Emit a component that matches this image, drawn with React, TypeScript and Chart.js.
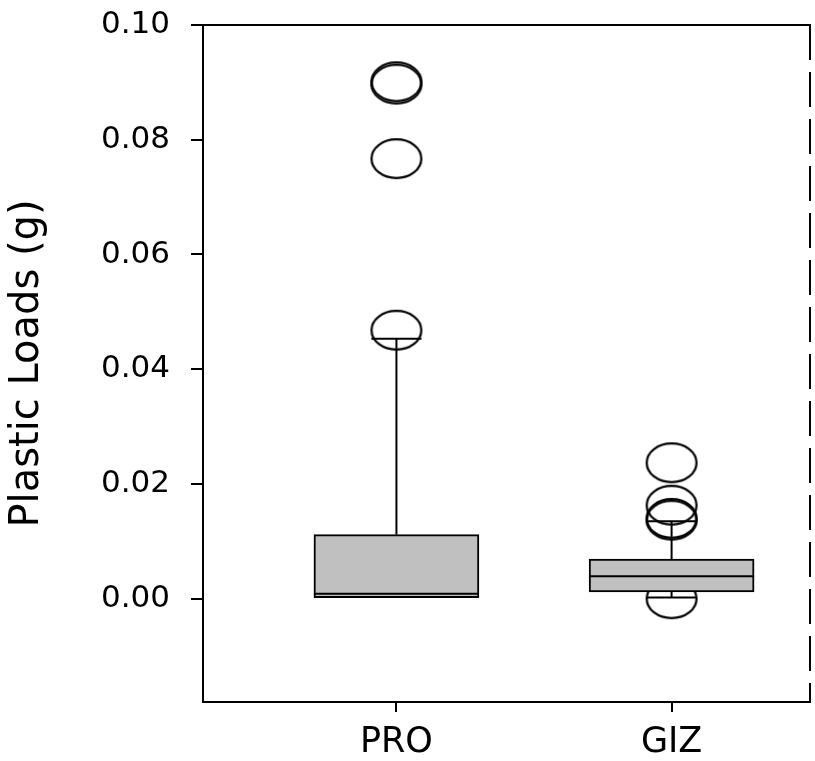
import React, { useEffect, useRef } from 'react';
import { Chart, registerables } from 'chart.js';

Chart.register(...registerables);

// ---- data ----
const categories = ['PRO', 'GIZ'];
const categoryPositions = [1, 2];
const q1Values = [0.0, 0.0012];
const medianValues = [0.00085, 0.0039];
const q3Values = [0.01117, 0.0069];
const whiskerLowValues = [0.0, 0.0002];
const whiskerHighValues = [0.0453, 0.0135];
const outliersPRO = [0.0901, 0.0897, 0.0767, 0.0468];
const outliersGIZ = [0.0237, 0.0163, 0.014, 0.0137, 0.0];
const yTickValues = [0, 0.02, 0.04, 0.06, 0.08, 0.1];
const yMin = -0.018;
const yMax = 0.1;
const xMin = 0.297;
const xMax = 2.503;

// ---- style constants ----
const BOX_HALF = 0.3;
const CAP_HALF = 0.091;
const FONT = 'DejaVu Sans';

function makeEllipse(w: number, h: number, lw: number): HTMLCanvasElement {
  const c = document.createElement('canvas');
  c.width = w + 4;
  c.height = h + 4;
  const ctx = c.getContext('2d')!;
  ctx.lineWidth = lw;
  ctx.strokeStyle = '#000';
  ctx.beginPath();
  ctx.ellipse(c.width / 2, c.height / 2, w / 2 - lw / 2, h / 2 - lw / 2, 0, 0, Math.PI * 2);
  ctx.stroke();
  return c;
}

function seg(points: { x: number; y: number }[]) {
  return {
    type: 'scatter' as const,
    data: points,
    showLine: true,
    borderColor: '#000',
    borderWidth: 2,
    pointRadius: 0,
    pointHoverRadius: 0,
    fill: false,
    order: 1,
  };
}

const dashedRightFrame = {
  id: 'dashedRightFrame',
  afterDraw(chart: any) {
    const { ctx, chartArea } = chart;
    ctx.save();
    ctx.strokeStyle = '#000';
    ctx.lineWidth = 2;
    ctx.setLineDash([35, 12]);
    ctx.beginPath();
    ctx.moveTo(Math.round(chartArea.right), chartArea.top);
    ctx.lineTo(Math.round(chartArea.right), chartArea.bottom + 1);
    ctx.stroke();
    ctx.restore();
  },
};

export default function App() {
  const ref = useRef<HTMLCanvasElement | null>(null);

  useEffect(() => {
    if (!ref.current) return;
    const ellipse = makeEllipse(52, 41, 2.2);

    const lineSets: any[] = [];
    categoryPositions.forEach((p, i) => {
      lineSets.push(seg([{ x: p - BOX_HALF, y: medianValues[i] }, { x: p + BOX_HALF, y: medianValues[i] }]));
      lineSets.push(seg([{ x: p, y: q3Values[i] }, { x: p, y: whiskerHighValues[i] }]));
      lineSets.push(seg([{ x: p - CAP_HALF, y: whiskerHighValues[i] }, { x: p + CAP_HALF, y: whiskerHighValues[i] }]));
      if (whiskerLowValues[i] < q1Values[i]) {
        lineSets.push(seg([{ x: p, y: q1Values[i] }, { x: p, y: whiskerLowValues[i] }]));
        lineSets.push(seg([{ x: p - CAP_HALF, y: whiskerLowValues[i] }, { x: p + CAP_HALF, y: whiskerLowValues[i] }]));
      }
    });

    const outlierData = [
      ...outliersPRO.map((v) => ({ x: categoryPositions[0], y: v })),
      ...outliersGIZ.map((v) => ({ x: categoryPositions[1], y: v })),
    ];

    const chart = new Chart(ref.current, {
      type: 'scatter',
      data: {
        datasets: [
          {
            type: 'bar',
            data: categoryPositions.map((p, i) => ({ x: p, y: [q1Values[i], q3Values[i]] })) as any,
            backgroundColor: '#c0c0c0',
            borderColor: '#000',
            borderWidth: 2,
            borderSkipped: false,
            barThickness: 165,
            order: 2,
          } as any,
          ...lineSets,
          {
            type: 'scatter',
            data: outlierData,
            pointStyle: ellipse,
            pointRadius: 26,
            pointHoverRadius: 26,
            clip: false,
            order: 3,
          } as any,
        ],
      },
      options: {
        responsive: false,
        animation: false,
        events: [],
        layout: { autoPadding: false, padding: { left: 0, right: 5, top: 25, bottom: 0 } },
        plugins: { legend: { display: false }, tooltip: { enabled: false } },
        scales: {
          x: {
            type: 'linear',
            position: 'bottom',
            min: xMin,
            max: xMax,
            offset: false,
            grid: { display: true, drawOnChartArea: false, drawTicks: true, tickLength: 10, color: '#000', lineWidth: 2, offset: false },
            border: { display: true, color: '#000', width: 2 },
            ticks: {
              font: { family: FONT, size: 35 },
              color: '#000',
              padding: 10,
              maxRotation: 0,
              callback: (v: any) => {
                const idx = categoryPositions.indexOf(Number(v));
                return idx >= 0 ? categories[idx] : '';
              },
            },
            afterBuildTicks: (s: any) => {
              s.ticks = categoryPositions.map((v) => ({ value: v }));
            },
            afterFit: (s: any) => {
              s.height = 59;
              s.paddingLeft = 0;
              s.paddingRight = 0;
            },
          },
          y: {
            type: 'linear',
            position: 'left',
            min: yMin,
            max: yMax,
            grid: { display: true, drawOnChartArea: false, drawTicks: true, tickLength: 12, color: '#000', lineWidth: 2 },
            border: { display: true, color: '#000', width: 2 },
            ticks: {
              font: { family: FONT, size: 31 },
              color: '#000',
              padding: 21,
              callback: (v: any) => Number(v).toFixed(2),
            },
            afterBuildTicks: (s: any) => {
              s.ticks = yTickValues.map((v) => ({ value: v }));
            },
            title: {
              display: true,
              text: 'Plastic Loads (g)',
              font: { family: FONT, size: 40 },
              color: '#000',
              padding: { top: 4, bottom: 0 },
            },
            afterFit: (s: any) => {
              s.width = 203;
              s.paddingTop = 0;
              s.paddingBottom = 0;
            },
          },
          x2: {
            type: 'linear',
            position: 'top',
            display: true,
            grid: { display: false, drawTicks: false },
            ticks: { display: false },
            border: { display: true, color: '#000', width: 2 },
            afterFit: (s: any) => {
              s.height = 0;
              s.paddingLeft = 0;
              s.paddingRight = 0;
            },
          },
        },
      } as any,
      plugins: [dashedRightFrame],
    });

    return () => chart.destroy();
  }, []);

  return (
    <div style={{ position: 'absolute', left: 0, top: 0, width: 815, height: 761, background: '#fff' }}>
      <canvas ref={ref} width={815} height={761} style={{ display: 'block' }} />
    </div>
  );
}
